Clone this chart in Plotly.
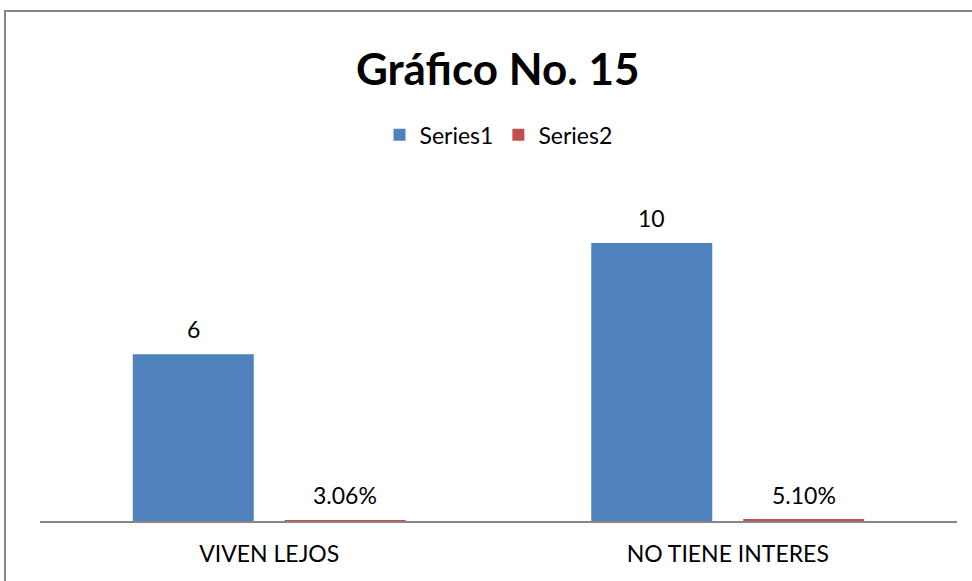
import plotly.graph_objects as go

# --- datos del gráfico ---
categorias = ["VIVEN LEJOS", "NO TIENE INTERES"]
serie1 = [6, 10]
serie2 = [0.0306, 0.051]
etiquetas_serie1 = ["6", "10"]
etiquetas_serie2 = ["3.06%", "5.10%"]

AZUL = "#4F81BD"
ROJO = "#C0504D"
FUENTE = "Lato"
TAM = 23

fig = go.Figure()

fig.add_trace(go.Bar(
    x=categorias, y=serie1, name="Series1",
    marker=dict(color=AZUL, line=dict(width=0)),
))
fig.add_trace(go.Bar(
    x=categorias, y=serie2, name="Series2",
    marker=dict(color=ROJO, line=dict(width=0)),
))

# etiquetas de datos encima de cada barra (desplazadas al centro de su barra)
for serie, etiquetas, dx in [(serie1, etiquetas_serie1, -76), (serie2, etiquetas_serie2, 76)]:
    for cat, val, txt in zip(categorias, serie, etiquetas):
        fig.add_annotation(
            x=cat, y=val, text=txt, showarrow=False,
            xref="x", yref="y", xanchor="center", yanchor="bottom",
            xshift=dx, yshift=9,
            font=dict(family=FUENTE, size=TAM, color="#000000"),
        )

fig.update_layout(
    width=972, height=581,
    margin=dict(l=40, r=15, t=170, b=60),
    paper_bgcolor="white", plot_bgcolor="white",
    barmode="group", bargap=0.337, bargroupgap=0.204,
    title=dict(text="<b>Gráfico No. 15</b>", x=0.512, xanchor="center",
               y=0.88, yanchor="middle",
               font=dict(family=FUENTE, size=44, color="#000000")),
    legend=dict(orientation="h", x=0.5, xanchor="center", y=1.10, yanchor="middle",
                font=dict(family=FUENTE, size=TAM, color="#000000"),
                itemwidth=30, traceorder="normal"),
    showlegend=True,
    font=dict(family=FUENTE, color="#000000"),
)

fig.update_xaxes(
    showline=True, linecolor="#868686", linewidth=2,
    showgrid=False, zeroline=False,
    ticks="", ticklabelstandoff=11,
    tickfont=dict(family=FUENTE, size=TAM, color="#000000"),
)
fig.update_yaxes(
    range=[0, 12.63], visible=False, showgrid=False, zeroline=False,
)

# marco del gráfico
fig.add_shape(type="rect", xref="paper", yref="paper",
              x0=-0.0382, x1=1.05, y0=-0.2, y1=1.453,
              line=dict(color="#868686", width=2), fillcolor="rgba(0,0,0,0)",
              layer="below")

fig.write_html("out.html", config={"displayModeBar": False},
               post_script="document.body.style.margin='0';")
